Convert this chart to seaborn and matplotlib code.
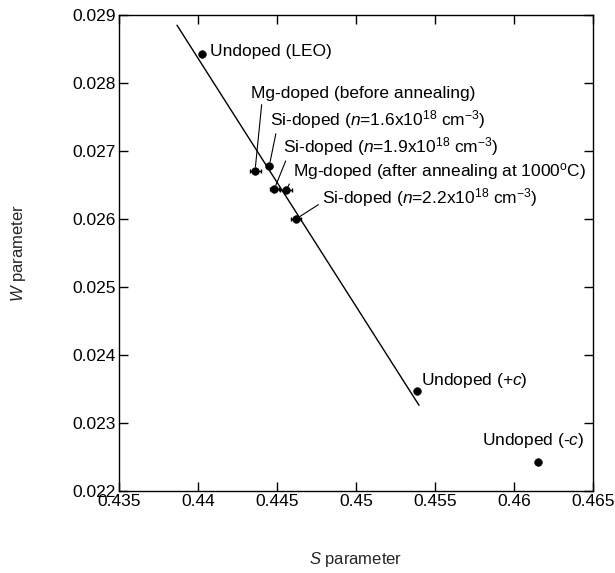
import matplotlib
matplotlib.use("Agg")
import matplotlib.pyplot as plt
import numpy as np
import pandas as pd
import seaborn as sns
from matplotlib.ticker import FormatStrFormatter

# positron annihilation S-W plot for GaN samples
samples = [
    "Undoped (LEO)",
    "Mg-doped (before annealing)",
    "Si-doped (n=1.6e18)",
    "Si-doped (n=1.9e18)",
    "Mg-doped (after annealing)",
    "Si-doped (n=2.2e18)",
    "Undoped (+c)",
    "Undoped (-c)",
]
s_param = [0.44023, 0.44361, 0.44451, 0.44483, 0.44557, 0.44620, 0.45384, 0.46154]
w_param = [0.02842, 0.02671, 0.02678, 0.02644, 0.02642, 0.02600, 0.02347, 0.02242]
s_err = [0.0, 0.00035, 0.0002, 0.0003, 0.00035, 0.0003, 0.0, 0.0]

labels = [
    "Undoped (LEO)",
    "Mg-doped (before annealing)",
    "Si-doped ($n$=1.6x10$^{18}$ cm$^{-3}$)",
    "Si-doped ($n$=1.9x10$^{18}$ cm$^{-3}$)",
    "Mg-doped (after annealing at 1000$^{\\rm o}$C)",
    "Si-doped ($n$=2.2x10$^{18}$ cm$^{-3}$)",
    "Undoped (+$c$)",
    "Undoped (-$c$)",
]

# straight line drawn through the data
fit_s = [0.43867, 0.45399]
fit_w = [0.02885, 0.02326]

x_ticks = [0.435, 0.44, 0.445, 0.45, 0.455, 0.46, 0.465]
y_ticks = [0.022, 0.023, 0.024, 0.025, 0.026, 0.027, 0.028, 0.029]

# label placement: (x, y, ha, leader relpos or None)
label_layout = [
    (0.44076, 0.02846, "left", None),
    (0.44334, 0.02784, "left", (0.05, 0.0)),
    (0.44456, 0.02747, "left", (0.03, 0.0)),
    (0.44536, 0.02707, "left", (0.02, 0.0)),
    (0.44599, 0.02670, "left", (0.0, 0.2)),
    (0.44783, 0.02631, "left", (0.0, 0.3)),
    (0.45411, 0.02362, "left", None),
    (0.46120, 0.02274, "center", None),
]

sns.set_theme(style="ticks")
plt.rcParams["font.family"] = ["Liberation Sans", "DejaVu Sans"]
plt.rcParams["mathtext.fontset"] = "custom"
plt.rcParams["mathtext.rm"] = "Liberation Sans"
plt.rcParams["mathtext.it"] = "Liberation Sans:italic"
plt.rcParams["mathtext.bf"] = "Liberation Sans:bold"

df = pd.DataFrame({"sample": samples, "S": s_param, "W": w_param, "S_err": s_err})
fit = pd.DataFrame({"S": fit_s, "W": fit_w})

fig = plt.figure(figsize=(6.15, 5.73), dpi=100)
ax = fig.add_axes([0.1935, 0.1431, 0.7707, 0.8307])

sns.lineplot(data=fit, x="S", y="W", color="black", linewidth=1.0, ax=ax)
ax.errorbar(df["S"], df["W"], xerr=df["S_err"], fmt="none", ecolor="black",
            elinewidth=1.0, capsize=1.5, capthick=1.0, zorder=3)
sns.scatterplot(data=df, x="S", y="W", color="black", marker="o", s=30,
                edgecolor="black", linewidth=0.5, zorder=4, ax=ax)

for (tx, ty, ha, rp), text, sx, wy in zip(label_layout, labels, df["S"], df["W"]):
    if rp is None:
        ax.text(tx, ty, text, ha=ha, va="center", fontsize=12.5, color="black")
    else:
        ax.annotate(text, xy=(sx, wy), xytext=(tx, ty), ha=ha, va="center",
                    fontsize=12.5, color="black",
                    arrowprops=dict(arrowstyle="-", color="black", lw=0.8,
                                    shrinkA=0, shrinkB=3, relpos=rp))

ax.set_xlim(x_ticks[0], x_ticks[-1])
ax.set_ylim(y_ticks[0], y_ticks[-1])
ax.set_xticks(x_ticks)
ax.set_yticks(y_ticks)
ax.xaxis.set_major_formatter(FormatStrFormatter("%g"))
ax.yaxis.set_major_formatter(FormatStrFormatter("%g"))
ax.tick_params(direction="in", length=6.5, width=1.0, top=True, right=True,
               labelsize=12.5, colors="black", pad=2)
for sp in ax.spines.values():
    sp.set_visible(True)
    sp.set_color("black")
    sp.set_linewidth(1.0)

ax.set_xlabel("$S$ parameter", fontsize=12, labelpad=30)
ax.set_ylabel("$W$ parameter", fontsize=12, labelpad=32)

fig.savefig("out.png", dpi=100)
plt.close(fig)
